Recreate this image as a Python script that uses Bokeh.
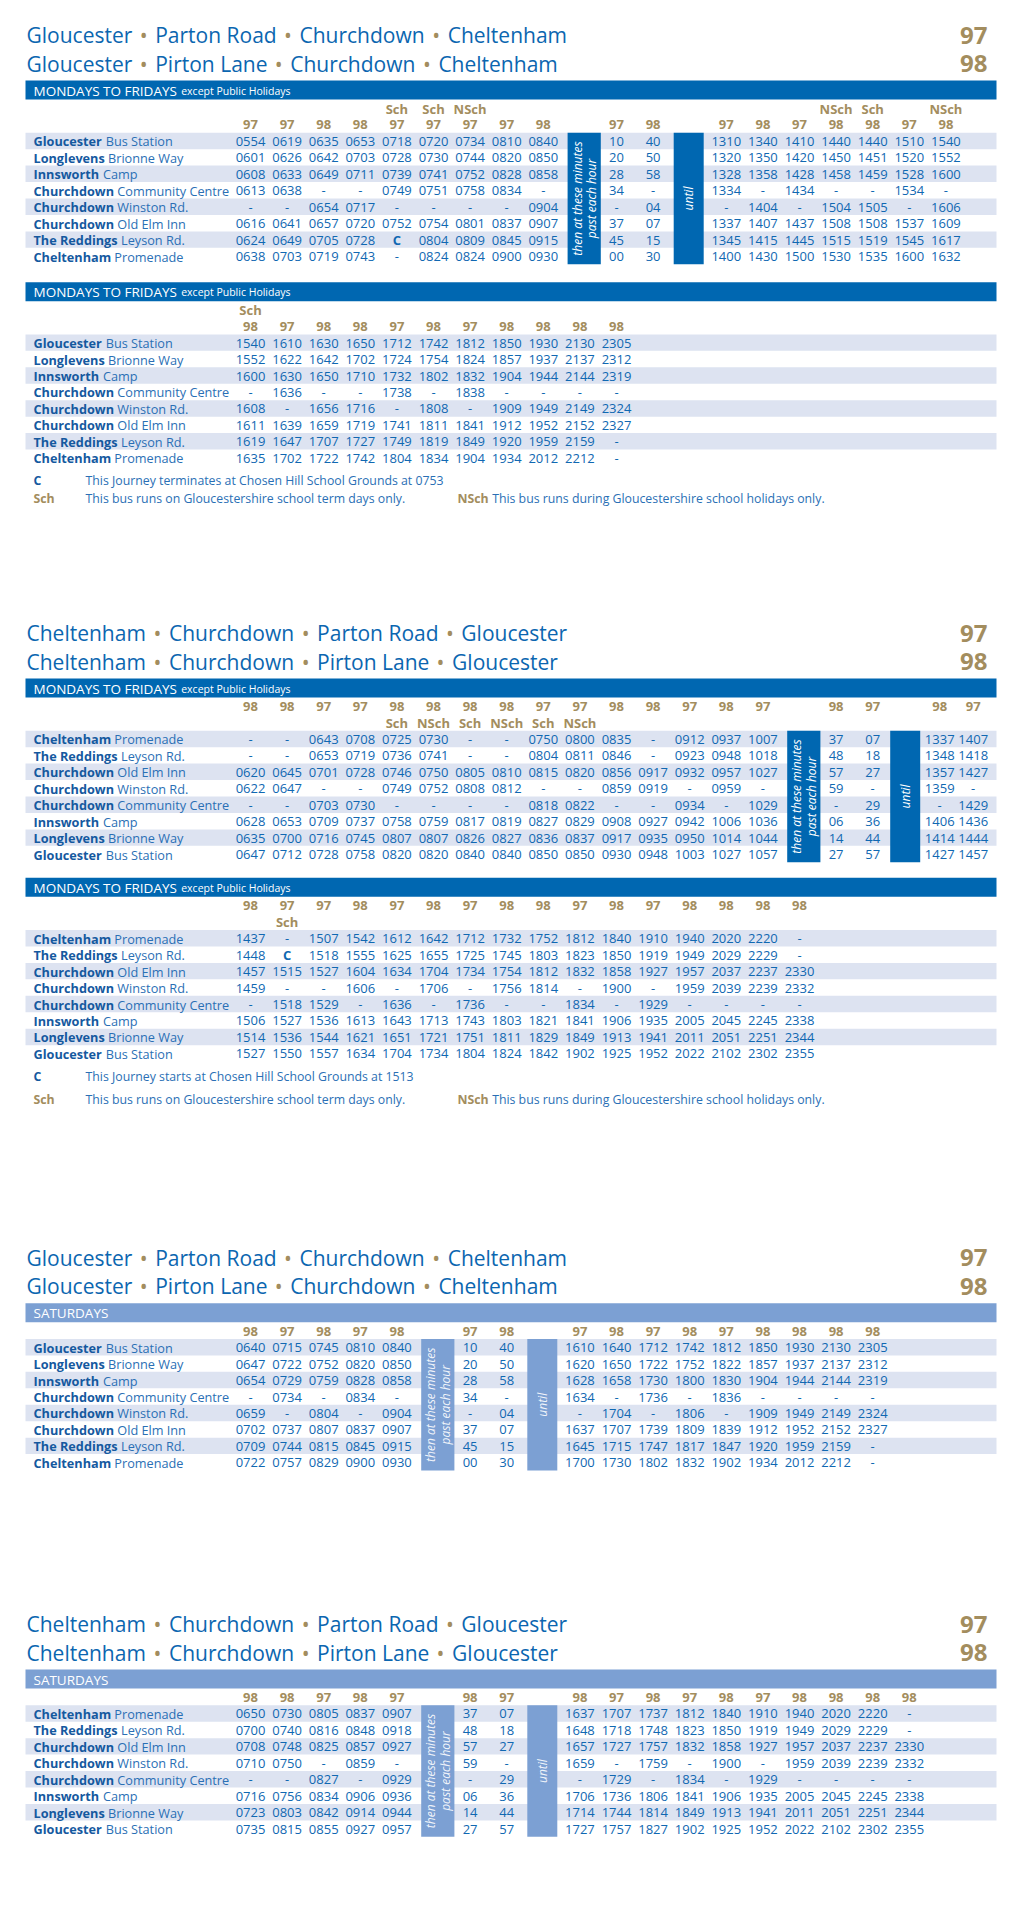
import math
from bokeh.plotting import figure
from bokeh.models import ColumnDataSource
from bokeh.core.properties import value
from bokeh.embed import file_html
from bokeh.resources import INLINE

# ---------------------------------------------------------------- data
TITLE_OUT = ["Gloucester • Parton Road • Churchdown • Cheltenham",
             "Gloucester • Pirton Lane • Churchdown • Cheltenham"]
TITLE_IN = ["Cheltenham • Churchdown • Parton Road • Gloucester",
            "Cheltenham • Churchdown • Pirton Lane • Gloucester"]
TITLE_ROUTES = ["97", "98"]

MF_LABEL = ("MONDAYS TO FRIDAYS", "except Public Holidays")
SAT_LABEL = ("SATURDAYS", "")

STOPS_OUT = [("Gloucester", "Bus Station"), ("Longlevens", "Brionne Way"),
             ("Innsworth", "Camp"), ("Churchdown", "Community Centre"),
             ("Churchdown", "Winston Rd."), ("Churchdown", "Old Elm Inn"),
             ("The Reddings", "Leyson Rd."), ("Cheltenham", "Promenade")]
STOPS_IN = [("Cheltenham", "Promenade"), ("The Reddings", "Leyson Rd."),
            ("Churchdown", "Old Elm Inn"), ("Churchdown", "Winston Rd."),
            ("Churchdown", "Community Centre"), ("Innsworth", "Camp"),
            ("Longlevens", "Brionne Way"), ("Gloucester", "Bus Station")]

# "|" = "then at these minutes past each hour" column, "U" = "until" column
T1_ROUTES = ["97", "97", "98", "98", "97", "97", "97", "97", "98", "|", "97", "98", "U",
             "97", "98", "97", "98", "98", "97", "98"]
T1_QUALS = ["", "", "", "", "Sch", "Sch", "NSch", "", "", "", "", "", "",
            "", "", "", "NSch", "Sch", "", "NSch"]
T1_TIMES = [
    "0554 0619 0635 0653 0718 0720 0734 0810 0840 10 40 1310 1340 1410 1440 1440 1510 1540",
    "0601 0626 0642 0703 0728 0730 0744 0820 0850 20 50 1320 1350 1420 1450 1451 1520 1552",
    "0608 0633 0649 0711 0739 0741 0752 0828 0858 28 58 1328 1358 1428 1458 1459 1528 1600",
    "0613 0638 - - 0749 0751 0758 0834 - 34 - 1334 - 1434 - - 1534 -",
    "- - 0654 0717 - - - - 0904 - 04 - 1404 - 1504 1505 - 1606",
    "0616 0641 0657 0720 0752 0754 0801 0837 0907 37 07 1337 1407 1437 1508 1508 1537 1609",
    "0624 0649 0705 0728 C 0804 0809 0845 0915 45 15 1345 1415 1445 1515 1519 1545 1617",
    "0638 0703 0719 0743 - 0824 0824 0900 0930 00 30 1400 1430 1500 1530 1535 1600 1632",
]

T2_ROUTES = ["98", "97", "98", "98", "97", "98", "97", "98", "98", "98", "98"]
T2_QUALS = ["Sch", "", "", "", "", "", "", "", "", "", ""]
T2_TIMES = [
    "1540 1610 1630 1650 1712 1742 1812 1850 1930 2130 2305",
    "1552 1622 1642 1702 1724 1754 1824 1857 1937 2137 2312",
    "1600 1630 1650 1710 1732 1802 1832 1904 1944 2144 2319",
    "- 1636 - - 1738 - 1838 - - - -",
    "1608 - 1656 1716 - 1808 - 1909 1949 2149 2324",
    "1611 1639 1659 1719 1741 1811 1841 1912 1952 2152 2327",
    "1619 1647 1707 1727 1749 1819 1849 1920 1959 2159 -",
    "1635 1702 1722 1742 1804 1834 1904 1934 2012 2212 -",
]

T3_ROUTES = ["98", "98", "97", "97", "98", "98", "98", "98", "97", "97", "98", "98", "97",
             "98", "97", "|", "98", "97", "U", "98", "97"]
T3_QUALS = ["", "", "", "", "Sch", "NSch", "Sch", "NSch", "Sch", "NSch", "", "", "",
            "", "", "", "", "", "", "", ""]
T3_TIMES = [
    "- - 0643 0708 0725 0730 - - 0750 0800 0835 - 0912 0937 1007 37 07 1337 1407",
    "- - 0653 0719 0736 0741 - - 0804 0811 0846 - 0923 0948 1018 48 18 1348 1418",
    "0620 0645 0701 0728 0746 0750 0805 0810 0815 0820 0856 0917 0932 0957 1027 57 27 1357 1427",
    "0622 0647 - - 0749 0752 0808 0812 - - 0859 0919 - 0959 - 59 - 1359 -",
    "- - 0703 0730 - - - - 0818 0822 - - 0934 - 1029 - 29 - 1429",
    "0628 0653 0709 0737 0758 0759 0817 0819 0827 0829 0908 0927 0942 1006 1036 06 36 1406 1436",
    "0635 0700 0716 0745 0807 0807 0826 0827 0836 0837 0917 0935 0950 1014 1044 14 44 1414 1444",
    "0647 0712 0728 0758 0820 0820 0840 0840 0850 0850 0930 0948 1003 1027 1057 27 57 1427 1457",
]

T4_ROUTES = ["98", "97", "97", "98", "97", "98", "97", "98", "98", "97", "98", "97",
             "98", "98", "98", "98"]
T4_QUALS = ["", "Sch", "", "", "", "", "", "", "", "", "", "", "", "", "", ""]
T4_TIMES = [
    "1437 - 1507 1542 1612 1642 1712 1732 1752 1812 1840 1910 1940 2020 2220 -",
    "1448 C 1518 1555 1625 1655 1725 1745 1803 1823 1850 1919 1949 2029 2229 -",
    "1457 1515 1527 1604 1634 1704 1734 1754 1812 1832 1858 1927 1957 2037 2237 2330",
    "1459 - - 1606 - 1706 - 1756 1814 - 1900 - 1959 2039 2239 2332",
    "- 1518 1529 - 1636 - 1736 - - 1834 - 1929 - - - -",
    "1506 1527 1536 1613 1643 1713 1743 1803 1821 1841 1906 1935 2005 2045 2245 2338",
    "1514 1536 1544 1621 1651 1721 1751 1811 1829 1849 1913 1941 2011 2051 2251 2344",
    "1527 1550 1557 1634 1704 1734 1804 1824 1842 1902 1925 1952 2022 2102 2302 2355",
]

T5_ROUTES = ["98", "97", "98", "97", "98", "|", "97", "98", "U",
             "97", "98", "97", "98", "97", "98", "98", "98", "98"]
T5_TIMES = [
    "0640 0715 0745 0810 0840 10 40 1610 1640 1712 1742 1812 1850 1930 2130 2305",
    "0647 0722 0752 0820 0850 20 50 1620 1650 1722 1752 1822 1857 1937 2137 2312",
    "0654 0729 0759 0828 0858 28 58 1628 1658 1730 1800 1830 1904 1944 2144 2319",
    "- 0734 - 0834 - 34 - 1634 - 1736 - 1836 - - - -",
    "0659 - 0804 - 0904 - 04 - 1704 - 1806 - 1909 1949 2149 2324",
    "0702 0737 0807 0837 0907 37 07 1637 1707 1739 1809 1839 1912 1952 2152 2327",
    "0709 0744 0815 0845 0915 45 15 1645 1715 1747 1817 1847 1920 1959 2159 -",
    "0722 0757 0829 0900 0930 00 30 1700 1730 1802 1832 1902 1934 2012 2212 -",
]

T6_ROUTES = ["98", "98", "97", "98", "97", "|", "98", "97", "U",
             "98", "97", "98", "97", "98", "97", "98", "98", "98", "98"]
T6_TIMES = [
    "0650 0730 0805 0837 0907 37 07 1637 1707 1737 1812 1840 1910 1940 2020 2220 -",
    "0700 0740 0816 0848 0918 48 18 1648 1718 1748 1823 1850 1919 1949 2029 2229 -",
    "0708 0748 0825 0857 0927 57 27 1657 1727 1757 1832 1858 1927 1957 2037 2237 2330",
    "0710 0750 - 0859 - 59 - 1659 - 1759 - 1900 - 1959 2039 2239 2332",
    "- - 0827 - 0929 - 29 - 1729 - 1834 - 1929 - - - -",
    "0716 0756 0834 0906 0936 06 36 1706 1736 1806 1841 1906 1935 2005 2045 2245 2338",
    "0723 0803 0842 0914 0944 14 44 1714 1744 1814 1849 1913 1941 2011 2051 2251 2344",
    "0735 0815 0855 0927 0957 27 57 1727 1757 1827 1902 1925 1952 2022 2102 2302 2355",
]

NOTE_C_OUT = "This Journey terminates at Chosen Hill School Grounds at 0753"
NOTE_C_IN = "This Journey starts at Chosen Hill School Grounds at 1513"
NOTE_SCH = "This bus runs on Gloucestershire school term days only."
NOTE_NSCH = "This bus runs during Gloucestershire school holidays only."
THEN_TEXT = ("then at these minutes", "past each hour")
UNTIL_TEXT = "until"

# ---------------------------------------------------------------- style
FONT = "Open Sans"
BLUE = "#0b66b0"
TIME_BLUE = "#1068b2"
STOP_BOLD = "#15599f"
STOP_REG = "#2a6fb5"
GOLD = "#a38d5e"
MF_BAR = "#0067b1"
SAT_BAR = "#7ca0d3"
BAND = "#dde3f1"

X0, PITCH, ROW = 250.0, 36.6, 16.45
BAND_L, BAND_R = 25.0, 996.0
NAME = 12.7     # stop names
TXT = 12.3      # notes
TSZ = 13.0      # times / header numbers

# approximate advance widths (units / 2048) used to place mixed-weight texts
REG = dict(zip("ACDFGHILMNOPRSTUY", [1296, 1292, 1493, 1057, 1491, 1511, 571, 1063, 1849,
                                     1554, 1599, 1208, 1278, 1124, 1130, 1479, 1137]))
REG.update(dict(zip("abcdeghiklmnoprstuvwxy .", [1139, 1237, 975, 1237, 1149, 1122, 1257, 518,
                                                 1075, 518, 1905, 1257, 1237, 1237, 836, 977,
                                                 723, 1257, 1073, 1604, 1100, 1075, 532, 545])))
BOLD = dict(zip("BCGILNPSTRW", [1380, 1300, 1530, 741, 1102, 1665, 1290, 1145, 1165, 1380, 2010]))
BOLD.update(dict(zip("abcdefghiklmnoprstuvwy ",
                     [1239, 1290, 1073, 1290, 1208, 776, 1139, 1352, 608, 1266, 608, 1995, 1352,
                      1276, 1290, 918, 1063, 887, 1352, 1178, 1726, 1180, 532])))


def tw(s, size, bold=False):
    t = BOLD if bold else REG
    return sum(t.get(c, 1180) for c in s) / 2048.0 * size


W, H = 1020, 1900
p = figure(width=W, height=H, x_range=(0, W), y_range=(H, 0),
           output_backend="svg", toolbar_location=None, min_border=0,
           x_axis_location=None, y_axis_location=None)
p.grid.visible = False
p.outline_line_color = None
p.background_fill_color = "white"
p.border_fill_color = "white"

texts = {}
quads = {}


def add_text(x, y, s, size, color, style="normal", align="left", baseline="alphabetic",
             angle=0.0, alpha=1.0):
    key = (size, style, color, align, baseline, angle, alpha)
    d = texts.setdefault(key, {"x": [], "y": [], "text": []})
    d["x"].append(x)
    d["y"].append(y)
    d["text"].append(s)


def add_quad(l, r, t, b, color, layer=0):
    d = quads.setdefault((layer, color), {"left": [], "right": [], "top": [], "bottom": []})
    d["left"].append(l)
    d["right"].append(r)
    d["top"].append(t)
    d["bottom"].append(b)


def col_centers(n, tail=None):
    xs, x = [], X0
    for i in range(n):
        if i > 0:
            x += tail[1] if (tail and i > tail[0]) else PITCH
        xs.append(x)
    return xs


def draw_table(top, title, label, sat, routes, quals, qual_first, stops, times,
               notes=None, tail=None):
    bar_col = SAT_BAR if sat else MF_BAR
    if title:
        for k, line in enumerate(title):
            cy = top - 45.5 + 28.7 * k
            x = 26.0
            words = line.split(" • ")
            for i, w in enumerate(words):
                add_text(x, cy, w, 21, BLUE)
                x += tw(w, 21)
                if i < len(words) - 1:
                    add_text(x + 11.5, cy, "•", 21, GOLD, align="center")
                    x += 23.0
            add_text(987.0, cy, TITLE_ROUTES[k], 24, GOLD, style="bold", align="right")
    # day bar
    add_quad(BAND_L, BAND_R, top, top + 19.0, bar_col, 0)
    add_text(33.0, top + 10.0, label[0], 13.5, "white")
    if label[1]:
        add_text(33.0 + tw(label[0], 13.5) + 4.0, top + 10.0, label[1], 10.5, "white")

    nh = 2 if quals else 1

    def lc(k):
        return top + 28.0 + ROW * k

    xs = col_centers(len(routes), tail)
    r_line = 1 if (quals and qual_first) else 0
    q_line = 0 if qual_first else 1
    for j, r in enumerate(routes):
        if r in ("|", "U"):
            continue
        add_text(xs[j], lc(r_line), r, TSZ, GOLD, "bold", "center")
        if quals and quals[j]:
            add_text(xs[j], lc(q_line), quals[j], TSZ, GOLD, "bold", "center")
    for ri, (place, detail) in enumerate(stops):
        cy = lc(nh + ri)
        if ri % 2 == 0:
            add_quad(BAND_L, BAND_R, cy - 8.7, cy + 7.75, BAND, 0)
        add_text(33.0, cy, place, NAME, STOP_BOLD, "bold")
        add_text(33.0 + tw(place + " ", NAME, True), cy, detail, NAME, STOP_REG)
        toks = times[ri].split()
        ti = 0
        for j, r in enumerate(routes):
            if r in ("|", "U"):
                continue
            t = toks[ti]
            add_text(xs[j], cy, t, TSZ, TIME_BLUE, "bold" if t == "C" else "normal", "center")
            ti += 1
    btop = lc(nh) - 8.7
    bbot = lc(nh + len(stops) - 1) + 7.75
    ymid = (btop + bbot) / 2.0
    a = 0.9 if sat else 1.0
    for j, r in enumerate(routes):
        if r == "|":
            xc = xs[j] + 4.3
            add_quad(xc - 16.6, xc + 16.6, btop, bbot, bar_col, 1)
            add_text(xc - 7.0, ymid, THEN_TEXT[0], 12, "white", "italic", "center", "middle",
                     math.pi / 2, a)
            add_text(xc + 7.6, ymid, THEN_TEXT[1], 12, "white", "italic", "center", "middle",
                     math.pi / 2, a)
        elif r == "U":
            xc = xs[j] - 1.0
            add_quad(xc - 15.0, xc + 15.0, btop, bbot, bar_col, 1)
            add_text(xc, ymid, UNTIL_TEXT, 12, "white", "italic", "center", "middle",
                     math.pi / 2, a)
    if notes:
        ctext, d1, d2 = notes
        last = lc(nh + len(stops) - 1)
        y1, y2 = last + d1, last + d2
        add_text(33.0, y1, "C", TXT, STOP_BOLD, "bold")
        add_text(85.0, y1, ctext, TXT, STOP_REG)
        add_text(33.0, y2, "Sch", TXT, GOLD, "bold")
        add_text(85.0, y2, NOTE_SCH, TXT, STOP_REG)
        add_text(457.0, y2, "NSch", TXT, GOLD, "bold")
        add_text(457.0 + tw("NSch ", TXT, True), y2, NOTE_NSCH, TXT, STOP_REG)


draw_table(80.0, TITLE_OUT, MF_LABEL, False, T1_ROUTES, T1_QUALS, True, STOPS_OUT, T1_TIMES)
draw_table(281.7, None, MF_LABEL, False, T2_ROUTES, T2_QUALS, True, STOPS_OUT, T2_TIMES,
           notes=(NOTE_C_OUT, 22.3, 40.0))
draw_table(678.0, TITLE_IN, MF_LABEL, False, T3_ROUTES, T3_QUALS, False, STOPS_IN, T3_TIMES,
           tail=(17, 33.5))
draw_table(877.3, None, MF_LABEL, False, T4_ROUTES, T4_QUALS, False, STOPS_IN, T4_TIMES,
           notes=(NOTE_C_IN, 22.5, 45.5))
draw_table(1302.7, TITLE_OUT, SAT_LABEL, True, T5_ROUTES, None, True, STOPS_OUT, T5_TIMES)
draw_table(1669.0, TITLE_IN, SAT_LABEL, True, T6_ROUTES, None, True, STOPS_IN, T6_TIMES)

for (layer, color) in sorted(quads.keys()):
    d = quads[(layer, color)]
    p.quad(left="left", right="right", top="top", bottom="bottom",
           source=ColumnDataSource(d), fill_color=color, line_color=None)

for key, d in texts.items():
    size, style, color, align, baseline, angle, alpha = key
    p.text(x="x", y="y", text="text", source=ColumnDataSource(d),
           text_font=value(FONT), text_font_size=f"{size}px", text_font_style=style,
           text_color=color, text_align=align, text_baseline=baseline,
           angle=angle, text_alpha=alpha)

open("out.html", "w").write(file_html(p, INLINE, "Timetable 97 98"))
